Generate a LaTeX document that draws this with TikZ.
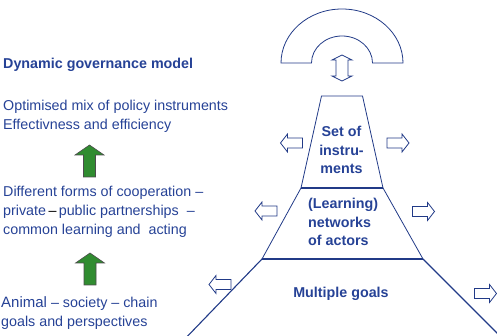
\documentclass[tikz,border=0pt]{standalone}
\usepackage{fontspec}
\setmainfont{Liberation Sans}
\definecolor{txtblue}{RGB}{38,66,150}
\definecolor{lineblue}{RGB}{33,58,135}
\definecolor{arrgreen}{RGB}{48,140,48}
\tikzstyle{lbl}=[inner sep=0pt, text=txtblue, font=\fontsize{14.3}{19}\selectfont, anchor=base west]
\tikzstyle{stage}=[inner sep=0pt, text=txtblue, font=\fontsize{14.3}{18.5}\selectfont\bfseries, align=center]
\tikzstyle{pyr}=[draw=lineblue, line width=0.8pt]
\tikzstyle{side}=[draw=lineblue, fill=white, line width=0.8pt, line join=miter]
\tikzstyle{growth}=[draw=black!70, fill=arrgreen, line width=0.6pt]
% block arrow: position, rotation, style, half length, shaft half, head half, head length
\newcommand{\blockarrow}[7]
{
  \draw[#3, shift={#1}, rotate=#2] (-#4,-#5) -- ({#4-#7},-#5) -- ({#4-#7},-#6) -- (#4,0)
    -- ({#4-#7},#6) -- ({#4-#7},#5) -- (-#4,#5) -- cycle;
}

\begin{document}
\begin{tikzpicture}[x=1pt, y=1pt]
	\useasboundingbox (0,0) rectangle (497,336);
	\clip (0,0) rectangle (497,336);

	% left column
	\node[lbl, font=\fontsize{14.3}{19}\selectfont\bfseries] (model) at (3,267) {Dynamic governance model};
	\node[lbl] (mix) at (3,225) {Optimised mix of policy instruments};
	\node[lbl] (eff) at (3,206) {Effectivness and efficiency};
	\blockarrow{(89.5,175)}{90}{growth}{16}{6}{14.5}{10}
	\node[lbl] (coop) at (3,139) {Different forms of cooperation --};
	\node[lbl] (ppp) at (3,120) {private{\color{black}\,--\,}public partnerships \ --};
	\node[lbl] (learn) at (3,101) {common learning and \ acting};
	\blockarrow{(90,67)}{90}{growth}{16}{6}{14.5}{10}
	\node[lbl] (chain) at (1,28) {{\fontsize{15}{19}\selectfont Animal} -- society -- chain};
	\node[lbl] (goals) at (1,9) {goals and perspectives};

	% arch on top
	\draw[pyr] (281,273) arc[start angle=180, end angle=0, x radius=61pt, y radius=54pt]
		-- (372.5,273) arc[start angle=0, end angle=180, x radius=30.5pt, y radius=27pt] -- cycle;
	\draw[side, shift={(342,268)}] (-6,-8) -- (-10,-8) -- (0,-13) -- (10,-8) -- (6,-8)
		-- (6,8) -- (10,8) -- (0,13) -- (-10,8) -- (-6,8) -- cycle;

	% pyramid
	\coordinate (t1tl) at (321.5,240);
	\coordinate (t1tr) at (362.5,240);
	\coordinate (t1bl) at (301,148);
	\coordinate (t1br) at (383,148);
	\coordinate (t2bl) at (262,77);
	\coordinate (t2br) at (423,77);
	\coordinate (bl) at (180,-8);
	\coordinate (br) at (504,-4);
	\draw[pyr] (t1bl) -- (t1tl) -- (t1tr) -- (t1br);
	\draw[pyr] (t2bl) -- (t1bl) (t1br) -- (t2br);
	\draw[pyr, line width=1.1pt] (t1bl) -- (t1br);
	\draw[pyr, line width=1.4pt] (t2bl) -- (t2br);
	\draw[pyr, line width=1.1pt] (bl) -- (t2bl) (t2br) -- (br);

	\node[stage] (set) at (341.5,185.7) {Set of\\instru-\\ments};
	\node[stage, align=left, anchor=west] (net) at (308,113.8) {(Learning)\\networks\\of actors};
	\node[stage] (multi) at (341,41.7) {Multiple goals};

	% side arrows
	\blockarrow{(291.5,193)}{180}{side}{11}{5}{9}{7}
	\blockarrow{(398,193)}{0}{side}{11}{5}{9}{7}
	\blockarrow{(266,125)}{180}{side}{11}{5}{9}{7}
	\blockarrow{(423.5,124.5)}{0}{side}{11}{5}{9}{7}
	\blockarrow{(220,51.5)}{180}{side}{11}{5}{9}{7}
	\blockarrow{(485.5,42.5)}{0}{side}{11}{5}{9}{7}
\end{tikzpicture}
\end{document}
